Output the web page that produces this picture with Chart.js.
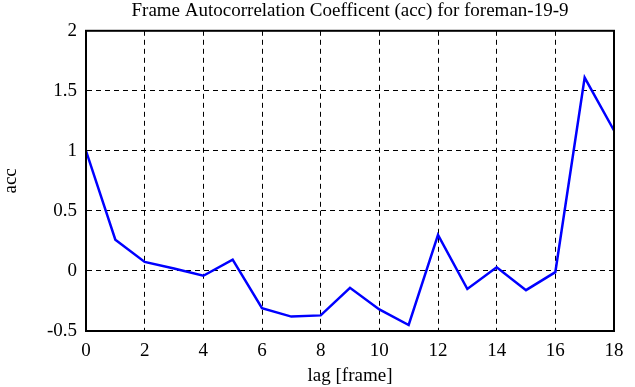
<!DOCTYPE html>
<html>
<head>
<meta charset="utf-8">
<script src="https://cdn.jsdelivr.net/npm/chart.js"></script>
<style>
    html, body { margin: 0; padding: 0; background: #fff; }
    #wrap { width: 635px; height: 387px; }
</style>
</head>
<body>
<div id="wrap"><canvas id="accChart" width="635" height="387"></canvas></div>
<script>
// lag in frames and the autocorrelation
const lags = [0, 1, 2, 3, 4, 5, 6, 7, 8, 9, 10, 11, 12, 13, 14, 15, 16, 17, 18];
const accValues = [1.0, 0.26, 0.075, 0.02, -0.04, 0.095, -0.31, -0.38, -0.37, -0.14, -0.32, -0.45, 0.30, -0.15, 0.03, -0.16, -0.01, 1.61, 1.17];

const titleText = 'Frame Autocorrelation Coefficent (acc) for foreman-19-9';
const xLabel = 'lag [frame]';
const yLabel = 'acc';

const serif = 'Liberation Serif';

const ctx = document.getElementById('accChart').getContext('2d');

new Chart(ctx, {
    type: 'line',
    data: {
        datasets: [{
            label: yLabel,
            data: lags.map((lag, i) => ({ x: lag, y: accValues[i] })),
            borderColor: '#0000ff',
            borderWidth: 2.5,
            pointRadius: 0,
            tension: 0,
            fill: false
        }]
    },
    options: {
        responsive: false,
        animation: false,
        layout: { padding: { top: 0, right: 21, left: 0, bottom: 0 } },
        plugins: {
            legend: { display: false },
            tooltip: { enabled: false },
            title: {
                display: true,
                text: titleText,
                fullSize: false,
                color: '#000',
                font: { family: serif, size: 19, weight: 'normal' },
                padding: { top: 0, bottom: 8 }
            }
        },
        scales: {
            x: {
                type: 'linear',
                min: 0,
                max: 18,
                ticks: {
                    stepSize: 2,
                    color: '#000',
                    padding: 9,
                    font: { family: serif, size: 19 }
                },
                grid: {
                    color: '#000',
                    lineWidth: 1,
                    drawTicks: false,
                    tickLength: 0
                },
                border: { display: true, color: '#000', width: 2, dash: [5, 4] },
                title: {
                    display: true,
                    text: xLabel,
                    color: '#000',
                    font: { family: serif, size: 19 },
                    padding: { top: 0, bottom: 0 }
                },
                afterFit: (scale) => { scale.height = 56; }
            },
            y: {
                min: -0.5,
                max: 2,
                ticks: {
                    stepSize: 0.5,
                    color: '#000',
                    padding: 9,
                    font: { family: serif, size: 19 },
                    callback: (v) => String(v)
                },
                grid: {
                    color: '#000',
                    lineWidth: 1,
                    drawTicks: false,
                    tickLength: 0
                },
                border: { display: true, color: '#000', width: 2, dash: [5, 4] },
                title: {
                    display: true,
                    text: yLabel,
                    color: '#000',
                    font: { family: serif, size: 19 },
                    padding: { top: 0, bottom: 8 }
                },
                afterFit: (scale) => { scale.width = 86; }
            }
        }
    },
    plugins: [{
        // solid frame around the plot area, like the gnuplot border
        id: 'frame',
        afterDatasetsDraw(chart) {
            const { ctx, chartArea: a } = chart;
            ctx.save();
            ctx.strokeStyle = '#000';
            ctx.lineWidth = 2;
            ctx.setLineDash([]);
            ctx.strokeRect(a.left, a.top, a.right - a.left, a.bottom - a.top);
            ctx.restore();
        }
    }]
});
</script>
</body>
</html>
